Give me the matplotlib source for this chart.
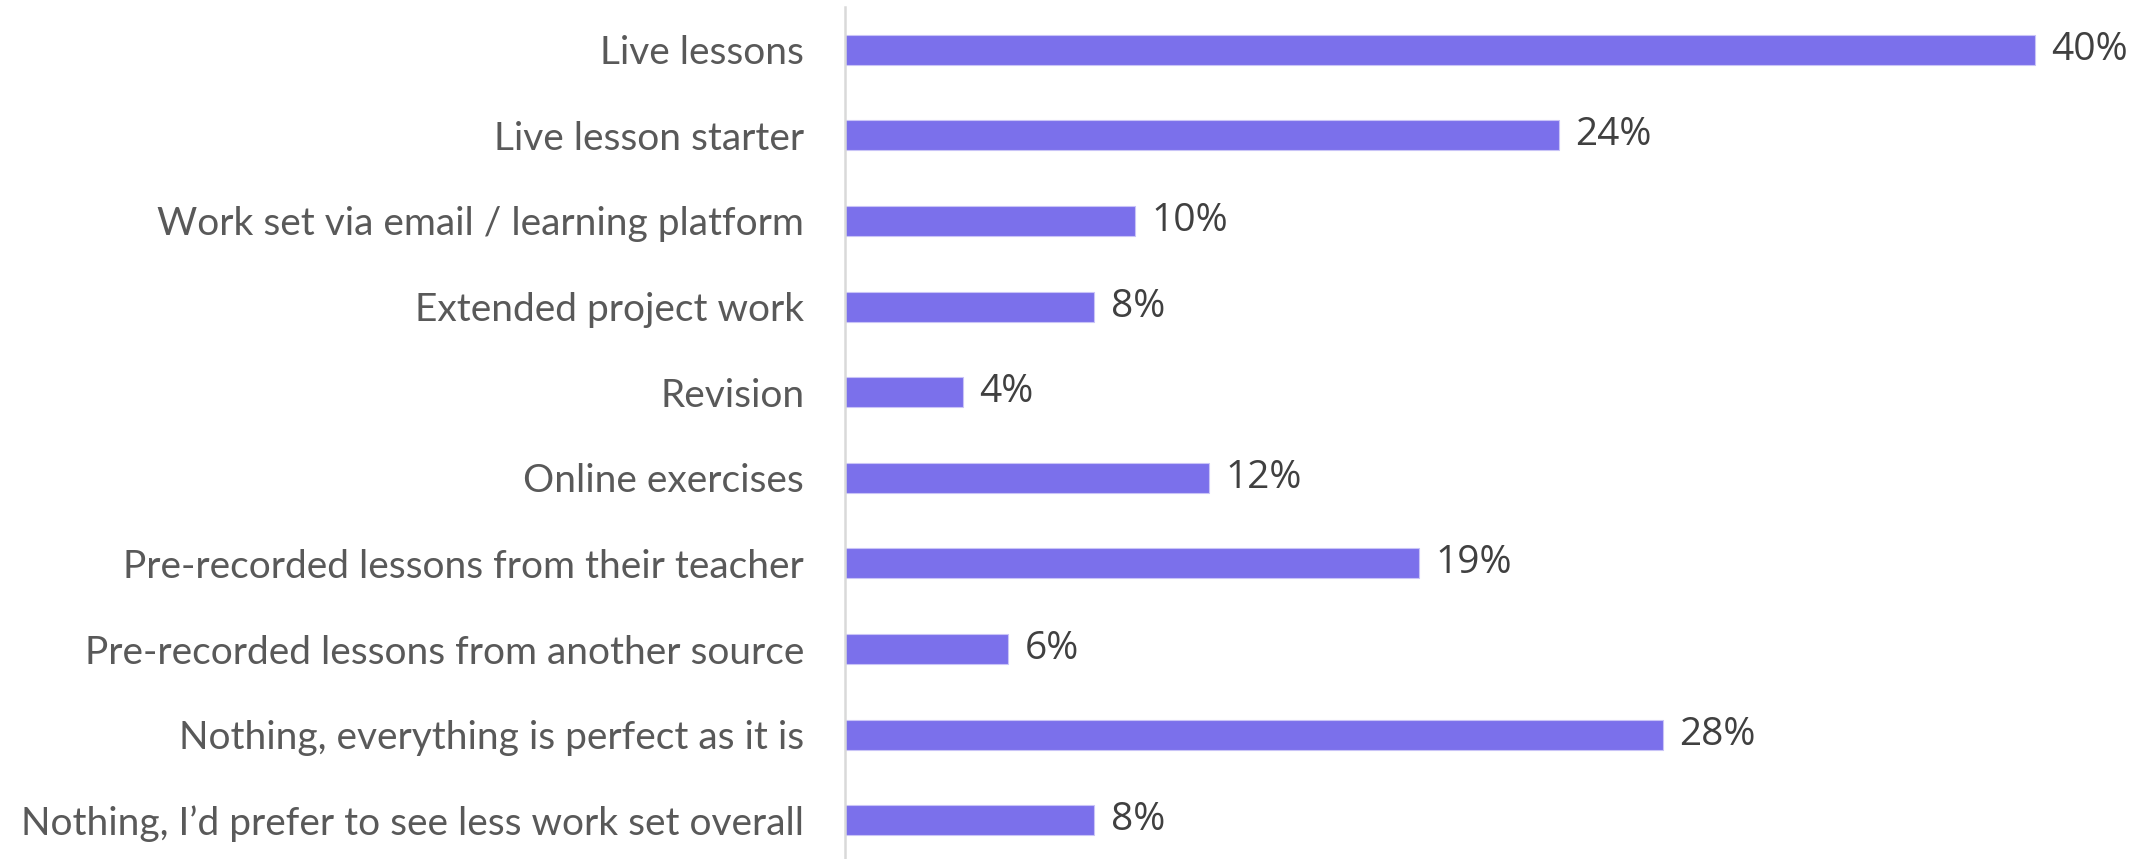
import matplotlib
matplotlib.use("Agg")
import matplotlib.pyplot as plt

categories = [
    "Live lessons",
    "Live lesson starter",
    "Work set via email / learning platform",
    "Extended project work",
    "Revision",
    "Online exercises",
    "Pre-recorded lessons from their teacher",
    "Pre-recorded lessons from another source",
    "Nothing, everything is perfect as it is",
    "Nothing, I\u2019d prefer to see less work set overall",
]
# bar lengths (percent)
values = [40.0, 24.0, 9.75, 8.4, 3.97, 12.25, 19.3, 5.5, 27.5, 8.4]
# data labels as printed
value_labels = ["40%", "24%", "10%", "8%", "4%", "12%", "19%", "6%", "28%", "8%"]

BAR = "#7B70EB"
fig = plt.figure(figsize=(21.44, 8.59), dpi=100)
x0 = 844.5 / 2144
ax = fig.add_axes([x0, -4 / 859, 1 - x0, 1 - 3 / 859])

y = list(range(len(categories)))
ax.barh(y, values, height=0.35, color=BAR, edgecolor="#C9C4F7", linewidth=0.8)
ax.set_ylim(len(categories) - 0.5, -0.5)
ax.set_xlim(0, (2144 - 844.5) / 29.75)

for yi, v, lab in zip(y, values, value_labels):
    ax.annotate(lab, (v, yi), xytext=(12, 0), textcoords="offset points",
                va="center", ha="left", fontsize=28, color="#404040",
                family="Open Sans")

ax.set_yticks(y)
ax.set_yticklabels(categories, fontsize=28, color="#595959", family="Lato")
ax.tick_params(axis="y", length=0, pad=29)
ax.set_xticks([])
for s in ["top", "right", "bottom"]:
    ax.spines[s].set_visible(False)
ax.spines["left"].set_color("#D9D9D9")
ax.spines["left"].set_linewidth(1.8)

fig.savefig("out.png", dpi=100, facecolor="white")
